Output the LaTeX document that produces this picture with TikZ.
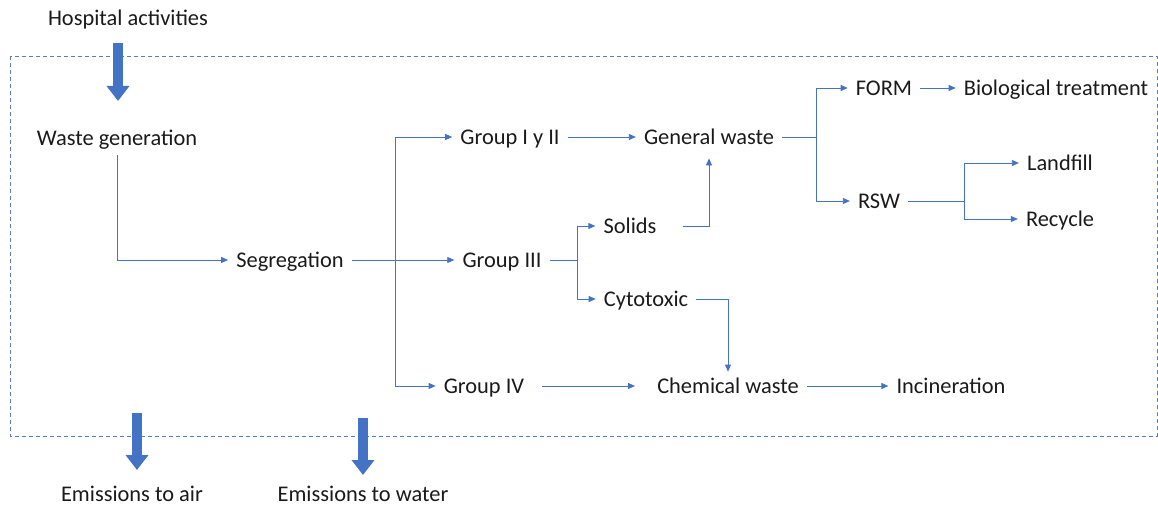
\documentclass[tikz,border=0pt]{standalone}
\usepackage{fontspec}
\setmainfont{Carlito}
\usetikzlibrary{arrows.meta}
\definecolor{flowblue}{HTML}{4472C4}
\definecolor{edgeblue}{HTML}{2F528F}
\definecolor{boxblue}{HTML}{5A7DB8}
\definecolor{inktext}{HTML}{1A1A1A}
\tikzset{
  lbl/.style={inner xsep=8pt, inner ysep=2pt, text height=14.4pt, text depth=0pt,
    text=inktext, font=\fontsize{22.4}{26}\selectfont},
  flowline/.style={flowblue, line width=0.8pt},
  flow/.style={flowline, -{Triangle[length=7pt, width=6pt]}},
  bigarrow/.style={flowblue, line width=10pt, -{Triangle[length=15pt, width=22pt]}},
}
\begin{document}
\begin{tikzpicture}[x=1pt, y=-1pt]
  \useasboundingbox (0, 0) rectangle (1158, 508);
  \draw[boxblue, dash pattern=on 4pt off 3pt, line width=0.8pt] (10, 56) rectangle (1157, 436);

  \node[lbl] (hosp) at (128, 18) {Hospital activities};
  \node[lbl] (wg) at (117, 138) {Waste generation};
  \node[lbl] (seg) at (290, 260) {Segregation};
  \node[lbl] (g12) at (510, 137) {Group I y II};
  \node[lbl] (g3) at (502, 260) {Group III};
  \node[lbl] (g4) at (484, 386) {Group IV};
  \node[lbl] (gw) at (709, 137) {General waste};
  \node[lbl] (sol) at (630, 226) {Solids};
  \node[lbl] (cyt) at (646, 299) {Cytotoxic};
  \node[lbl] (cw) at (728, 386) {Chemical waste};
  \node[lbl] (inc) at (951, 386) {Incineration};
  \node[lbl] (form) at (884, 88) {FORM};
  \node[lbl] (bio) at (1056, 88) {Biological treatment};
  \node[lbl] (rsw) at (879, 201) {RSW};
  \node[lbl] (land) at (1060, 163) {Landfill};
  \node[lbl] (rec) at (1060, 219) {Recycle};
  \node[lbl] (air) at (132, 494) {Emissions to air};
  \node[lbl] (water) at (363, 494) {Emissions to water};

  \coordinate (split) at (395, 260);
  \coordinate (g3split) at (577, 260);
  \coordinate (gwsplit) at (816, 137);
  \coordinate (rswsplit) at (964, 201);
  \coordinate (inTop) at (118, 43);
  \coordinate (inEnd) at (118, 101);
  \coordinate (airTop) at (137, 413);
  \coordinate (airEnd) at (137, 470);
  \coordinate (waterTop) at (363, 418);
  \coordinate (waterEnd) at (363, 475);

  \foreach \a/\b in {inTop/inEnd, airTop/airEnd, waterTop/waterEnd} {
    \draw[bigarrow] (\a) -- (\b);
  }

  \draw[flow] ([yshift=-8pt]wg.south) |- (seg.west);
  \draw[flow] (seg.east) -- (g3.west);
  \draw[flow] (split) |- (g12.west);
  \draw[flow] (split) |- (g4.west);
  \draw[flow] (g12.east) -- (gw.west);
  \draw[flow] ([xshift=10pt]g4.east) -- ([xshift=-14pt]cw.west);
  \draw[flow] (cw.east) -- (inc.west);

  \draw[flowline] (g3.east) -- (g3split);
  \foreach \n in {sol, cyt} {
    \draw[flow] (g3split) |- (\n.west);
  }
  \draw[flow] ([xshift=18pt]sol.east) -| ([yshift=-12pt]gw.south);
  \draw[flow] (cyt.east) -| ([yshift=5pt]cw.north);

  \draw[flowline] (gw.east) -- (gwsplit);
  \foreach \n in {form, rsw} {
    \draw[flow] (gwsplit) |- (\n.west);
  }
  \draw[flow] (form.east) -- (bio.west);
  \draw[flowline] (rsw.east) -- (rswsplit);
  \foreach \n in {land, rec} {
    \draw[flow] (rswsplit) |- (\n.west);
  }
\end{tikzpicture}
\end{document}
